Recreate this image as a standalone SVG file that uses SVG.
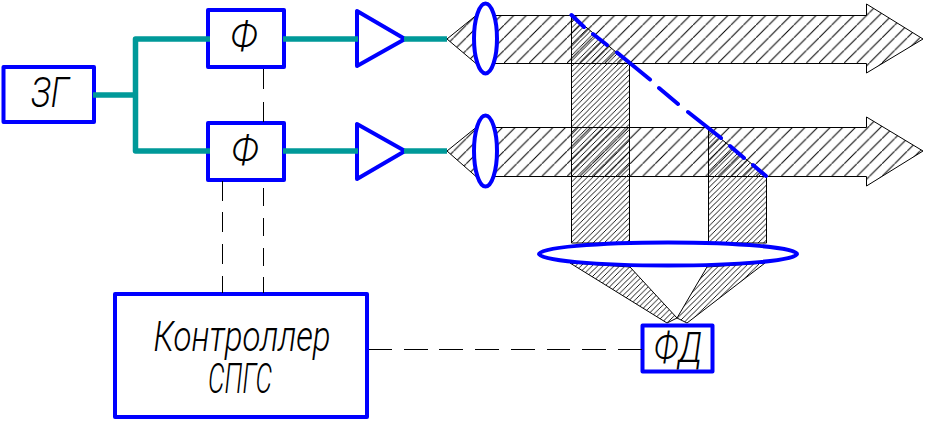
<svg xmlns="http://www.w3.org/2000/svg" width="926" height="422" viewBox="0 0 926 422">
<style>
.box{fill:#fff;stroke:#0000ff;stroke-width:4;stroke-linejoin:round}
.tri{fill:#fff;stroke:#0000ff;stroke-width:4;stroke-linejoin:round}
.lens{fill:#fff;stroke:#0000ff;stroke-width:4}
.wire{fill:none;stroke:#009999;stroke-width:5.5;stroke-linejoin:round}
.dash{fill:none;stroke:#000;stroke-width:1}
.beam{fill:url(#wide);stroke:#000;stroke-width:1}
.ray{fill:url(#fine);stroke:#000;stroke-width:1}
.mirror{fill:none;stroke:#0000ff;stroke-width:4;stroke-linecap:round}
text{font-family:"Roboto","Liberation Sans",sans-serif;font-style:italic;font-weight:300;fill:#000;text-anchor:middle}
</style>
<defs>
<pattern id="wide" patternUnits="userSpaceOnUse" width="12.6" height="12.6"><path d="M-1,13.6L13.6,-1" stroke="#000" stroke-width="1"/></pattern>
<pattern id="fine" patternUnits="userSpaceOnUse" width="5.5" height="5.5"><path d="M-1,6.5L6.5,-1" stroke="#000" stroke-width="0.9"/></pattern>
</defs>
<rect width="926" height="422" fill="#fff"/>
<g id="beams">
<path class="beam" d="M447,39L476,15.500H866.500V4L923,39L866.500,73V63.500H476Z"/>
<path class="beam" d="M447,151L476,127.500H866.500V117L923,151L866.500,186V176.500H476Z"/>
<path class="ray" d="M571.500,15L629.500,63.300V243H571.500Z"/>
<path class="ray" d="M708.500,128.600L766.500,176V243H708.500Z"/>
<path class="ray" d="M570,263L630,267L677,318L667,323Z"/>
<path class="ray" d="M707,267L765,263L687,323L677,318Z"/>
</g>
<g id="lens1"><ellipse class="lens" cx="485.500" cy="38.500" rx="11.500" ry="35"/></g>
<g id="lens2"><ellipse class="lens" cx="485.500" cy="151" rx="11.500" ry="35.500"/></g>
<g id="lens3"><ellipse class="lens" cx="668" cy="254" rx="129" ry="11.500"/></g>
<g id="mirror"><path class="mirror" d="M571.500,15L584,27M593,34L607,45M617,52.500L650,79.500M659,88L678,104M688,112L721,138M730,146L744,158M753,165L766,176"/></g>
<g id="zg"><rect class="box" x="3.500" y="67" width="90.500" height="55"/><text x="50" y="107" font-size="42" textLength="38" lengthAdjust="spacingAndGlyphs">ЗГ</text></g>
<g id="phi1"><rect class="box" x="208" y="10" width="76" height="57"/><text x="244" y="50" font-size="40" textLength="27" lengthAdjust="spacingAndGlyphs">Ф</text></g>
<g id="phi2"><rect class="box" x="208" y="123" width="76" height="57"/><text x="245" y="164" font-size="40" textLength="27" lengthAdjust="spacingAndGlyphs">Ф</text></g>
<g id="amp1"><path class="tri" d="M357,11V66L405,39Z"/></g>
<g id="amp2"><path class="tri" d="M357,124V179L405,151Z"/></g>
<g id="controller"><rect class="box" x="115" y="294" width="252" height="123"/><text x="242" y="351" font-size="42" textLength="177" lengthAdjust="spacingAndGlyphs">Контроллер</text><text x="240" y="393" font-size="42" textLength="64" lengthAdjust="spacingAndGlyphs">СПГС</text></g>
<g id="fd"><rect class="box" x="642.500" y="325.500" width="70" height="46"/><text x="678" y="362" font-size="42" textLength="48" lengthAdjust="spacingAndGlyphs">ФД</text></g>
<g id="connectors">
<path class="wire" d="M93,95H135.500M210,39H135.500V151H210"/>
<path class="wire" d="M283,39H358M283,151H358M404,39H447M404,151H447"/>
<path class="dash" d="M263.500,69V89M263.500,102V122"/>
<path class="dash" d="M263.500,188V206M263.500,218V236M263.500,248V266M263.500,277V293"/>
<path class="dash" d="M222.500,181V201M222.500,212V232M222.500,244V264M222.500,276V293"/>
<path class="dash" d="M369,349.500H392M404,349.500H428M439,349.500H463M475,349.500H499M511,349.500H535M547,349.500H570M582,349.500H606M618,349.500H642"/>
</g>
</svg>
